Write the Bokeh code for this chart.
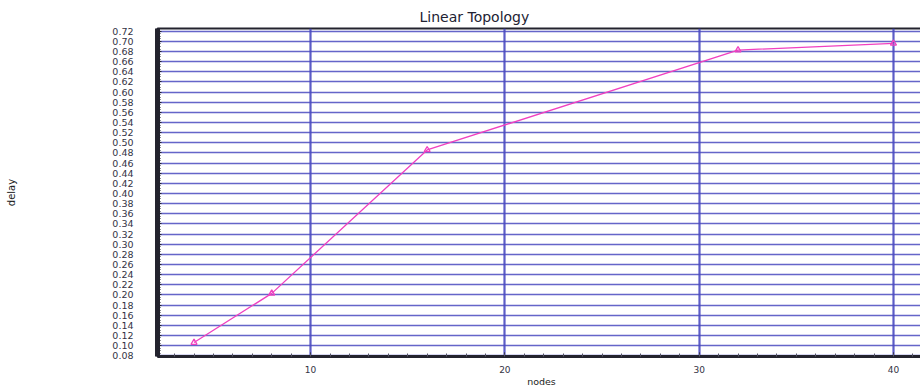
from bokeh.plotting import figure
from bokeh.models import LinearAxis, FixedTicker, Range1d, PrintfTickFormatter, Grid
from bokeh.embed import file_html
from bokeh.resources import INLINE

# data
nodes = [4, 8, 16, 32, 40]
delay = [0.106, 0.203, 0.486, 0.683, 0.696]

x_major = [10, 20, 30, 40]
x_minor = list(range(3, 42))
y_major = [round(0.08 + 0.02 * i, 2) for i in range(33)]
y_minor = [round(0.08 + 0.005 * i, 3) for i in range(130)]

GRID = "#4a4ac0"
DARK = "#23232e"
LINE = "#f040c0"
FONT = "DejaVu Sans"

p = figure(width=925, height=389, output_backend="svg", toolbar_location=None,
           x_range=Range1d(2.12, 41.65), y_range=Range1d(0.0785, 0.7255),
           min_border_left=157, min_border_right=0, min_border_top=28, min_border_bottom=32,
           x_axis_location=None, y_axis_location=None)

p.title.text = "Linear Topology"
p.title.align = "left"
p.title.offset = 262
p.title.text_font = FONT
p.title.text_font_size = "14px"
p.title.text_font_style = "normal"
p.title.text_color = "#222233"
p.title.standoff = 7

p.outline_line_color = DARK
p.outline_line_width = 2
p.background_fill_color = "white"
p.border_fill_color = "white"

xa = LinearAxis(ticker=FixedTicker(ticks=x_major, minor_ticks=x_minor))
xa.axis_label = "nodes"
xa.axis_label_text_font = FONT
xa.axis_label_text_font_size = "9.5px"
xa.axis_label_text_font_style = "normal"
xa.axis_label_text_color = "#222"
xa.axis_label_standoff = 0
xa.axis_line_color = DARK
xa.axis_line_width = 3
xa.major_tick_in = 4
xa.major_tick_out = 0
xa.minor_tick_in = 3
xa.minor_tick_out = 0
xa.major_tick_line_color = DARK
xa.minor_tick_line_color = "#555566"
xa.major_label_text_font = FONT
xa.major_label_text_font_size = "9px"
xa.major_label_text_color = "#333344"
xa.major_label_standoff = 9
p.add_layout(xa, "below")

ya = LinearAxis(ticker=FixedTicker(ticks=y_major, minor_ticks=y_minor))
ya.formatter = PrintfTickFormatter(format="%.2f")
ya.axis_label = "delay"
ya.axis_label_text_font = FONT
ya.axis_label_text_font_size = "10px"
ya.axis_label_text_font_style = "normal"
ya.axis_label_text_color = "#222"
ya.axis_label_standoff = 92
ya.axis_line_color = DARK
ya.axis_line_width = 5
ya.major_tick_in = 4
ya.major_tick_out = 0
ya.minor_tick_in = 3
ya.minor_tick_out = 0
ya.major_tick_line_color = DARK
ya.minor_tick_line_color = DARK
ya.major_label_text_font = FONT
ya.major_label_text_font_size = "9.5px"
ya.major_label_text_color = "#333344"
ya.major_label_standoff = 24
p.add_layout(ya, "left")

p.xgrid.visible = False
p.ygrid.visible = False
p.add_layout(Grid(dimension=0, ticker=xa.ticker, grid_line_color=GRID, grid_line_width=2.2, grid_line_alpha=0.9))
p.add_layout(Grid(dimension=1, ticker=ya.ticker, grid_line_color=GRID, grid_line_width=1.6, grid_line_alpha=0.85))

p.line(nodes, delay, line_color=LINE, line_width=1.3)
p.scatter(nodes, delay, marker="triangle", size=6, fill_color=None, line_color=LINE, line_width=1.3)

open("out.html", "w").write(file_html(p, INLINE))
